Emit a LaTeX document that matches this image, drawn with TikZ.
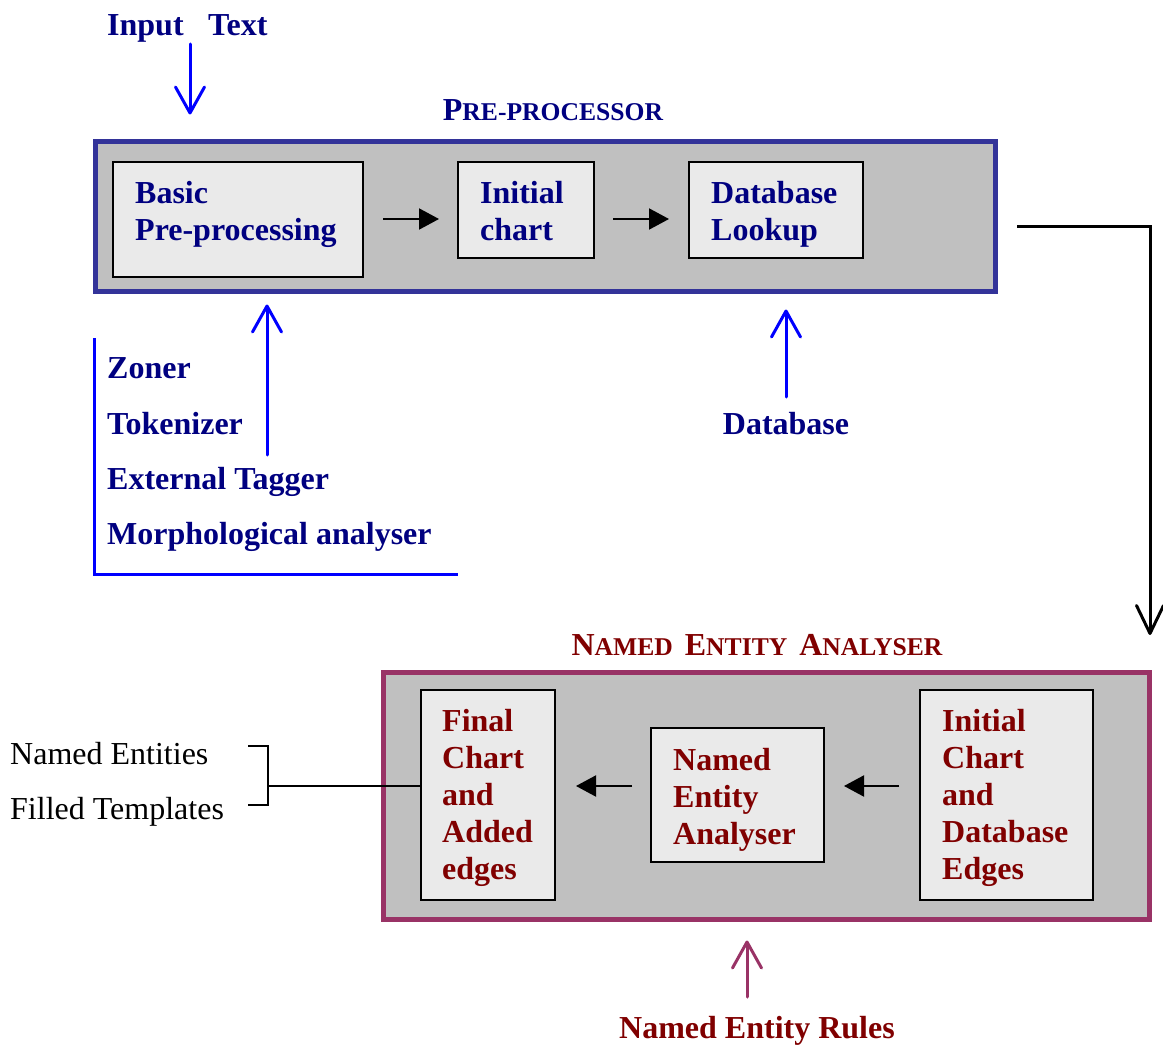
\documentclass[tikz,border=0pt]{standalone}
\usepackage{fontspec}
\setmainfont{Liberation Serif}
\usetikzlibrary{arrows.meta}
\definecolor{navytxt}{HTML}{000080}
\definecolor{maroontxt}{HTML}{800000}
\definecolor{ppborder}{HTML}{333399}
\definecolor{neborder}{HTML}{993366}
\definecolor{boxgray}{HTML}{C0C0C0}
\definecolor{innergray}{HTML}{EAEAEA}
\definecolor{purebl}{HTML}{0000FF}
\newcommand{\bigf}{\fontsize{32}{37}\selectfont}
\newcommand{\scf}{\fontsize{25.6}{30}\selectfont}
\begin{document}
\begin{tikzpicture}[x=1pt,y=-1pt,
  outerbox/.style={line width=5pt, fill=boxgray, inner sep=0pt},
  inbox/.style={draw=black, line width=2pt, fill=innergray, inner sep=0pt},
  btxt/.style={font=\bfseries\bigf, inner sep=0pt, align=left, anchor=north west},
  lbl/.style={font=\bfseries\bigf, inner sep=0pt, anchor=base west, text=navytxt},
  reglbl/.style={font=\bigf, inner sep=0pt, anchor=base west, text=black},
  bluearr/.style={draw=purebl, line width=3pt, line cap=round, -{Straight Barb[length=26pt,width=29pt,round]}},
  nearr/.style={draw=neborder, line width=3pt, line cap=round, -{Straight Barb[length=26pt,width=29pt,round]}},
  blkarr/.style={draw=black, line width=2pt, -{Triangle[length=20pt,width=21pt]}},
  longarr/.style={draw=black, line width=3pt, -{Straight Barb[length=28pt,width=27pt,round]}}
]
\useasboundingbox (0,0) rectangle (1163,1046);

% ---------- Pre-processor ----------
\node[lbl, anchor=base] (pptitle) at (553,121) {\bfseries P{\scf RE-PROCESSOR}};
\node[outerbox, draw=ppborder, minimum width=900pt, minimum height=150pt] (pp) at (545.5,216.5) {};
\node[inbox, minimum width=250pt, minimum height=115pt] (basic) at (238,219.5) {};
\node[inbox, minimum width=136pt, minimum height=96pt] (init) at (526,210) {};
\node[inbox, minimum width=174pt, minimum height=96pt] (dbl) at (776,210) {};
\node[btxt, text=navytxt] (basict) at (135,181.5) {Basic\\Pre-processing};
\node[btxt, text=navytxt] (initt) at (480,181.5) {Initial\\chart};
\node[btxt, text=navytxt] (dblt) at (711,181.5) {Database\\Lookup};

\coordinate (row1) at (0,219);
\draw[blkarr, shorten <=19pt, shorten >=18pt] (basic.east |- row1) -- (init.west |- row1);
\draw[blkarr, shorten <=18pt, shorten >=19pt] (init.east |- row1) -- (dbl.west |- row1);

% Input text
\node[lbl] (input) at (107,35.5) {Input\hspace{24.5pt}Text};
\coordinate (inTop) at (190,44);
\draw[bluearr, shorten >=24.5pt] (inTop) -- (pp.north -| inTop);

% Left tools
\node[lbl] (zoner) at (107,378.5) {Zoner};
\node[lbl] (tok) at (107,434.5) {Tokenizer};
\node[lbl] (ext) at (107,489.5) {External Tagger};
\node[lbl] (morph) at (107,544.5) {Morphological analyser};
\coordinate (bk1) at (94,338);
\coordinate (bk2) at (94,574);
\coordinate (bk3) at (458,574);
\draw[draw=purebl, line width=3pt] (bk1) -- (bk2) -- (bk3);
\coordinate (tokTop) at (267,455);
\draw[bluearr, shorten >=10.5pt] (tokTop) -- (pp.south -| tokTop);

% Database
\node[lbl, anchor=base] (db) at (786,434) {Database};
\coordinate (dbTop) at (786,397);
\draw[bluearr, shorten >=15.5pt] (dbTop) -- (pp.south -| dbTop);

% Long connector
\coordinate (ppout) at (1017,227);
\coordinate (nein) at (1150,635);
\draw[longarr] (ppout) -| (nein);

% ---------- Named Entity Analyser ----------
\node[inner sep=0pt, anchor=base, font=\bfseries\bigf, text=maroontxt] (netitle) at (757,655)
  {N{\scf AMED}\hspace{12pt}E{\scf NTITY}\hspace{12pt}A{\scf NALYSER}};
\node[outerbox, draw=neborder, minimum width=766pt, minimum height=247pt] (ne) at (766.5,796) {};
\node[inbox, minimum width=134pt, minimum height=210pt] (final) at (488,795) {};
\node[inbox, minimum width=173pt, minimum height=134pt] (nea) at (737.5,795) {};
\node[inbox, minimum width=173pt, minimum height=210pt] (ic) at (1006.5,795) {};
\node[btxt, text=maroontxt] (finalt) at (442,709.5) {Final\\Chart\\and\\Added\\edges};
\node[btxt, text=maroontxt] (neat) at (673,748.5) {Named\\Entity\\Analyser};
\node[btxt, text=maroontxt] (ict) at (942,709.5) {Initial\\Chart\\and\\Database\\Edges};

\coordinate (nerow) at (0,786);
\draw[blkarr, shorten <=20pt, shorten >=19pt] (ic.west |- nerow) -- (nea.east |- nerow);
\draw[blkarr, shorten <=18pt, shorten >=20pt] (nea.west |- nerow) -- (final.east |- nerow);

% Output bracket
\node[reglbl] (nent) at (10,764) {Named Entities};
\node[reglbl] (ftmp) at (10,819) {Filled Templates};
\coordinate (brk) at (268,786);
\coordinate (brA) at (248,746);
\coordinate (brB) at (268,746);
\coordinate (brC) at (268,805);
\coordinate (brD) at (248,805);
\draw[line width=2pt] (final.west |- nerow) -- (brk);
\draw[line width=2pt] (brA) -- (brB) -- (brC) -- (brD);

% Rules
\node[inner sep=0pt, anchor=base, font=\bfseries\bigf, text=maroontxt] (rules) at (757,1038) {Named Entity Rules};
\coordinate (rulesTop) at (747,997);
\draw[nearr, shorten >=18.5pt] (rulesTop) -- (ne.south -| rulesTop);
\end{tikzpicture}
\end{document}
